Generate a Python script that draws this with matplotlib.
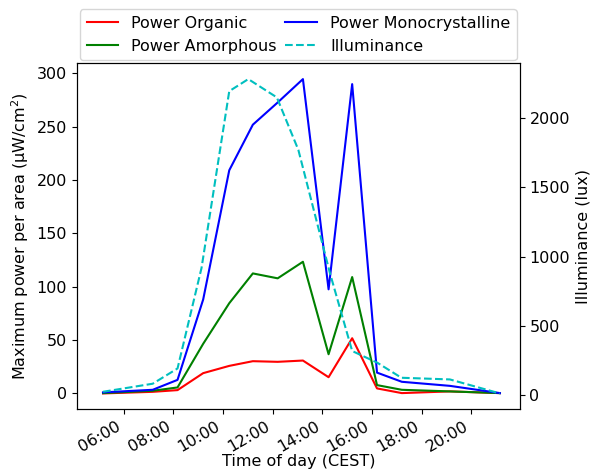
import matplotlib.pyplot as plt
import matplotlib.dates as mdates
import pandas as pd

plt.rcParams['font.size'] = 11.5

# Time stamps (power measurements)
t_power = ['05:10', '07:10', '08:10', '09:12', '10:15', '11:12', '12:12', '13:13',
           '14:15', '15:12', '16:12', '17:12', '19:08', '21:09']
# Time stamps (illuminance measurements)
t_lux = ['05:10', '07:10', '08:10', '09:08', '10:15', '11:01', '12:10', '13:02',
         '14:18', '15:12', '16:13', '17:11', '19:08', '21:09']

organic = [0.0, 1.5, 3.1, 19.0, 25.8, 30.2, 29.6, 30.8, 15.2, 51.7, 4.7, 0.3, 1.9, 0.3]
amorphous = [0.3, 2.5, 5.6, 46.5, 84.5, 112.4, 107.8, 123.3, 36.7, 109.0, 7.8, 3.4, 1.9, 0.3]
mono = [1.0, 3.4, 12.7, 88.0, 209.0, 251.7, 272.5, 294.4, 97.5, 289.7, 19.5, 10.9, 7.1, 0.3]
lux = [26, 84, 194, 919, 2194, 2281, 2149, 1770, 885, 320, 235, 127, 115, 14]

day = '2019-06-01 '
x_power = pd.to_datetime([day + s for s in t_power])
x_lux = pd.to_datetime([day + s for s in t_lux])

fig, ax = plt.subplots(figsize=(5.92, 4.73), dpi=100)
fig.subplots_adjust(left=0.13, right=0.878, bottom=0.135, top=0.866)

l1, = ax.plot(x_power, organic, 'r', label='Power Organic')
l2, = ax.plot(x_power, amorphous, 'g', label='Power Amorphous')
l3, = ax.plot(x_power, mono, 'b', label='Power Monocrystalline')
ax.set_ylabel('Maximum power per area (μW/cm$^2$)')
ax.set_xlabel('Time of day (CEST)', labelpad=-1)

ax2 = ax.twinx()
l4, = ax2.plot(x_lux, lux, 'c--', label='Illuminance')
ax2.set_ylabel('Illuminance (lux)')

ax.set_xlim(pd.Timestamp(day + '04:07'), pd.Timestamp(day + '21:57'))
ax.xaxis.set_major_locator(mdates.HourLocator(byhour=range(6, 22, 2)))
ax.xaxis.set_major_formatter(mdates.DateFormatter('%H:%M'))
for lab in ax.get_xticklabels():
    lab.set_rotation(30)
    lab.set_ha('right')

lines = [l1, l2, l3, l4]
ax.legend(lines, [l.get_label() for l in lines], ncol=2, mode='expand',
          loc='lower left', bbox_to_anchor=(0, 1.0, 1, 0.1), borderaxespad=0.2)

fig.savefig('out.png')
